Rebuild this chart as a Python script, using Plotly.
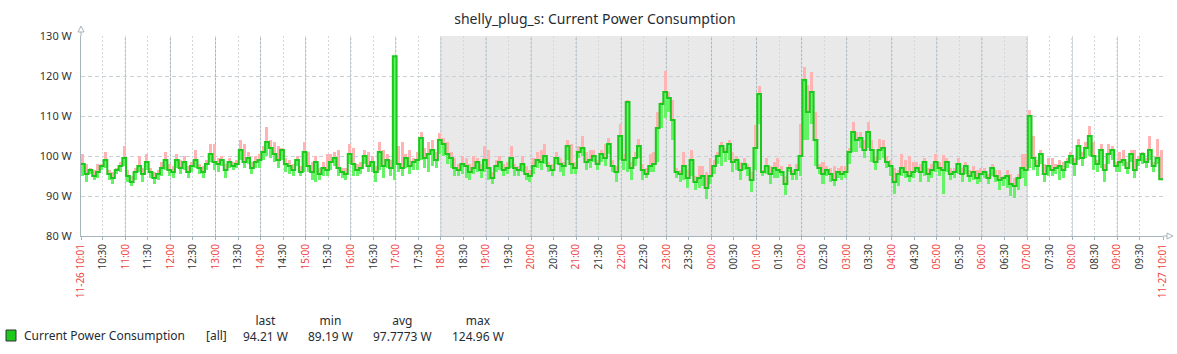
import pandas as pd
import plotly.graph_objects as go

title_text = "shelly_plug_s: Current Power Consumption"
series_name = "Current Power Consumption"
start = "2023-11-26 10:01"
end = "2023-11-27 10:01"
night_start = "2023-11-26 18:00"
night_end = "2023-11-27 07:00"
y_ticks = [80, 90, 100, 110, 120, 130]
legend_headers = ["last", "min", "avg", "max"]
legend_values = ["94.21 W", "89.19 W", "97.7773 W", "124.96 W"]

# 5-minute averages (W), 10:01 -> 10:01 next day
avg_w = [
    98.0, 95.5, 96.5, 95.0, 96.0, 97.5, 99.0, 95.5, 94.5, 96.5, 97.5, 99.5,
    95.0, 93.5, 96.0, 97.5, 95.5, 98.5, 96.0, 94.5, 95.5, 97.0, 99.0, 96.5,
    96.0, 99.0, 97.0, 98.5, 96.0, 97.5, 99.0, 97.0, 96.0, 98.0, 100.5, 98.5,
    98.0, 99.0, 96.5, 98.5, 97.5, 98.0, 101.5, 98.5, 99.5, 97.0, 98.5, 99.0,
    101.0, 103.5, 102.0, 100.5, 99.0, 101.5, 98.0, 97.5, 96.5, 99.0, 96.0, 101.0,
    97.5, 96.0, 98.5, 95.5, 97.0, 96.5, 98.5, 99.5, 97.0, 96.0, 95.5, 100.5,
    98.0, 96.5, 97.0, 100.0, 97.5, 98.5, 96.0, 101.0, 97.5, 99.0, 97.0, 124.96,
    98.0, 97.0, 99.5, 97.5, 98.5, 99.0, 104.5, 99.5, 100.5, 101.5, 99.0, 104.0,
    103.0, 100.5, 99.5, 97.0, 96.5, 98.0, 97.5, 96.0, 97.0, 98.5, 96.5, 99.0,
    97.0, 94.5, 97.5, 98.5, 96.5, 97.0, 99.5, 97.0, 96.5, 98.0, 95.5, 95.0,
    97.5, 99.0, 98.5, 100.0, 97.5, 96.5, 99.5, 98.0, 97.5, 102.5, 98.0, 97.0,
    101.0, 102.0, 98.5, 99.0, 100.0, 98.0, 100.5, 99.5, 103.0, 97.5, 96.0, 105.0,
    99.0, 113.5, 97.0, 99.5, 102.5, 96.5, 95.5, 97.5, 98.0, 107.0, 113.0, 116.0,
    114.5, 109.0, 96.0, 95.5, 97.5, 94.5, 99.0, 93.5, 94.5, 95.0, 92.0, 95.0,
    97.5, 100.0, 102.5, 101.0, 103.0, 98.5, 99.0, 96.5, 98.0, 97.0, 94.0, 102.0,
    115.5, 96.0, 97.5, 95.5, 97.0, 96.5, 96.0, 93.0, 97.0, 95.5, 96.5, 100.0,
    119.0, 111.0, 116.0, 104.0, 97.0, 95.5, 96.5, 95.5, 94.0, 96.0, 95.5, 96.0,
    101.0, 106.0, 104.0, 104.5, 101.5, 106.0, 101.5, 98.5, 101.5, 102.0, 98.5, 97.5,
    93.5, 95.5, 97.0, 96.0, 95.0, 96.0, 97.0, 96.0, 98.5, 95.5, 96.5, 98.5,
    97.0, 96.5, 98.5, 95.5, 96.0, 98.0, 95.5, 97.5, 95.0, 96.0, 94.5, 95.5,
    96.0, 94.5, 97.0, 95.0, 94.0, 94.5, 95.0, 93.0, 92.5, 94.5, 97.0, 96.5,
    110.0, 99.5, 97.5, 100.5, 95.5, 97.5, 96.5, 97.0, 97.5, 96.5, 98.5, 100.0,
    98.0, 102.5, 99.5, 102.0, 105.0, 100.0, 98.0, 101.5, 96.5, 100.5, 101.5, 97.5,
    98.5, 99.0, 97.0, 100.5, 96.5, 99.0, 100.5, 98.5, 101.5, 97.5, 99.5, 94.21,
]

max_w = [
    100.5, 98.0, 97.0, 96.5, 98.0, 98.0, 101.0, 96.5, 96.0, 97.0, 98.5, 102.5,
    96.5, 95.0, 97.0, 100.0, 97.0, 100.5, 97.0, 96.0, 96.5, 98.5, 101.0, 98.0,
    97.5, 100.5, 99.0, 100.0, 97.5, 98.5, 101.5, 98.0, 97.5, 99.0, 103.0, 103.0,
    99.5, 100.0, 98.0, 99.5, 98.5, 99.0, 104.0, 103.0, 101.0, 98.5, 100.0, 100.5,
    102.5, 107.2, 104.0, 103.5, 102.5, 102.0, 99.5, 99.0, 98.0, 100.0, 97.5, 103.5,
    101.0, 98.5, 100.0, 97.0, 98.5, 100.5, 100.5, 101.0, 101.5, 97.0, 97.0, 103.0,
    102.0, 98.0, 98.5, 101.5, 101.0, 100.0, 97.5, 103.5, 101.5, 100.5, 99.0, 124.96,
    102.5, 103.5, 100.5, 101.5, 99.5, 101.0, 106.0, 102.0, 103.5, 104.0, 101.0, 105.7,
    104.5, 103.5, 101.0, 99.5, 98.0, 100.0, 99.5, 98.0, 100.0, 99.5, 98.0, 102.5,
    101.5, 96.0, 99.0, 100.0, 98.0, 98.5, 102.5, 98.0, 97.5, 100.0, 97.5, 96.5,
    99.5, 101.0, 101.5, 103.0, 98.5, 98.0, 101.0, 99.5, 98.5, 104.0, 103.0, 98.5,
    102.5, 105.0, 101.0, 101.5, 101.5, 99.0, 101.5, 103.0, 104.5, 99.0, 97.5, 108.0,
    100.5, 113.8, 98.5, 101.0, 104.2, 98.0, 97.0, 100.5, 101.0, 111.0, 113.5, 121.3,
    116.0, 114.0, 97.0, 96.5, 101.0, 96.5, 101.5, 95.0, 97.5, 97.5, 96.0, 99.5,
    99.0, 101.0, 103.6, 102.0, 104.0, 101.0, 100.0, 98.5, 99.5, 98.0, 96.0, 107.8,
    117.5, 96.5, 99.5, 97.5, 98.5, 99.5, 97.5, 95.0, 98.0, 96.5, 98.0, 108.0,
    122.3, 117.7, 121.0, 111.0, 98.0, 98.5, 97.5, 97.0, 97.5, 97.0, 97.5, 97.5,
    102.0, 108.6, 106.0, 106.0, 104.0, 108.6, 104.0, 100.0, 104.2, 104.0, 100.0, 99.0,
    97.0, 96.5, 100.5, 99.0, 100.0, 98.5, 98.5, 98.0, 99.5, 97.0, 98.0, 100.5,
    98.5, 100.3, 99.5, 97.0, 97.0, 99.4, 97.0, 98.5, 96.5, 97.5, 96.5, 97.0,
    97.0, 95.5, 98.0, 96.5, 96.5, 95.0, 96.5, 95.5, 94.5, 95.5, 100.5, 100.5,
    111.5, 105.0, 99.0, 101.5, 98.0, 99.5, 99.5, 98.0, 99.0, 98.5, 99.5, 101.0,
    99.5, 104.2, 101.0, 103.5, 107.5, 103.5, 99.0, 103.0, 98.0, 103.0, 102.5, 98.5,
    101.0, 101.5, 98.5, 101.5, 101.5, 100.0, 101.0, 99.5, 105.0, 98.5, 104.2, 101.5,
]

min_w = [
    95.0, 93.5, 95.5, 94.0, 94.5, 96.5, 97.0, 94.0, 93.0, 95.5, 96.0, 97.5,
    93.5, 92.5, 94.0, 96.0, 93.5, 96.5, 94.5, 93.0, 94.0, 95.0, 96.5, 95.0,
    94.5, 97.0, 95.5, 96.5, 94.5, 96.0, 97.0, 95.5, 94.5, 96.5, 98.5, 96.5,
    96.0, 97.5, 94.5, 97.0, 96.5, 97.0, 99.0, 97.0, 98.0, 95.5, 97.0, 97.0,
    99.0, 100.0, 99.5, 98.5, 97.0, 99.0, 96.0, 95.5, 95.0, 97.5, 95.0, 96.0,
    96.0, 94.0, 93.5, 94.0, 95.0, 95.0, 96.5, 97.5, 95.0, 94.5, 94.0, 98.0,
    95.0, 95.0, 95.5, 98.0, 96.0, 96.0, 93.5, 96.5, 94.5, 97.0, 95.0, 94.0,
    96.0, 95.0, 97.0, 95.5, 96.5, 96.5, 99.0, 97.0, 96.0, 97.5, 97.0, 100.5,
    100.0, 98.0, 97.0, 95.0, 95.0, 95.5, 94.5, 94.0, 95.5, 96.0, 94.5, 96.0,
    94.0, 93.0, 96.0, 96.5, 95.0, 95.5, 97.0, 95.0, 95.0, 96.0, 94.0, 93.5,
    95.5, 97.0, 96.5, 98.0, 96.0, 95.0, 98.0, 96.0, 95.0, 99.0, 95.5, 95.5,
    99.5, 100.0, 96.5, 97.0, 98.5, 96.5, 98.5, 97.5, 100.5, 96.0, 93.5, 99.0,
    96.5, 96.0, 94.0, 97.5, 99.5, 94.0, 94.5, 96.0, 96.0, 98.5, 107.0, 109.5,
    111.0, 104.0, 94.5, 93.5, 94.0, 92.0, 95.0, 91.5, 92.0, 92.5, 89.19, 93.0,
    95.5, 98.0, 97.5, 98.5, 99.0, 96.0, 96.5, 94.0, 96.5, 95.0, 91.0, 96.5,
    108.0, 95.0, 95.5, 93.0, 94.5, 94.5, 95.0, 90.3, 96.0, 94.0, 94.0, 95.0,
    104.0, 104.0, 108.0, 97.5, 95.5, 93.0, 95.0, 93.5, 92.5, 94.5, 94.0, 94.5,
    98.0, 101.0, 101.0, 102.0, 99.5, 102.0, 98.5, 96.5, 99.0, 99.5, 97.0, 95.0,
    90.5, 92.5, 95.0, 94.5, 93.5, 94.5, 96.0, 93.5, 95.0, 93.5, 94.5, 96.0,
    95.0, 90.5, 96.0, 94.0, 94.5, 95.5, 93.5, 95.5, 93.5, 94.0, 93.0, 93.5,
    94.5, 93.0, 95.0, 93.5, 91.5, 92.5, 92.0, 90.0, 89.5, 91.5, 94.5, 92.5,
    97.0, 96.5, 95.0, 98.0, 93.5, 95.0, 95.0, 95.5, 94.0, 94.5, 97.0, 98.0,
    95.0, 99.0, 97.5, 99.5, 100.0, 96.5, 96.0, 97.0, 93.5, 98.0, 99.0, 96.0,
    96.0, 97.5, 95.5, 98.5, 94.5, 97.5, 98.0, 97.0, 99.0, 96.0, 98.0, 94.0,
]

FONT = "Noto Sans"
TXT = "#1f2c33"
RED = "#f04444"
AXIS = "#a6b4bb"
GREEN = "#1cc81c"
LIGHT_GREEN = "#66f266"
PINK = "#ffb3b3"

step = pd.Timedelta(minutes=5)
edges = pd.date_range(start, periods=len(avg_w) + 1, freq=step)
centers = edges[:-1] + step / 2
bar_w = 4 * 60 * 1000

fig = go.Figure()
fig.add_trace(go.Bar(
    x=centers, base=avg_w, y=[mx - a for mx, a in zip(max_w, avg_w)],
    width=bar_w, marker=dict(color=PINK, line=dict(width=0)), hoverinfo="skip",
))
fig.add_trace(go.Bar(
    x=centers, base=min_w, y=[a - mn for a, mn in zip(avg_w, min_w)],
    width=bar_w, marker=dict(color=LIGHT_GREEN, line=dict(width=0)), hoverinfo="skip",
))
fig.add_trace(go.Scatter(
    x=edges, y=avg_w + [avg_w[-1]], mode="lines", line_shape="hv",
    line=dict(color=GREEN, width=2), name=series_name,
))

# x ticks
t0 = pd.Timestamp(start)
t1 = pd.Timestamp(end)
half_hours = pd.date_range("2023-11-26 10:30", "2023-11-27 09:30", freq="30min")
tickvals = [t0] + list(half_hours) + [t1]
ticktext = [f'<span style="color:{RED}">{t0:%m-%d %H:%M}</span>']
for ts in half_hours:
    if ts.minute == 0:
        ticktext.append(f'<span style="color:{RED}">{ts:%H:%M}</span>')
    else:
        ticktext.append(f"{ts:%H:%M}")
ticktext.append(f'<span style="color:{RED}">{t1:%m-%d %H:%M}</span>')

shapes = [
    dict(type="rect", xref="x", yref="paper", x0=night_start, x1=night_end,
         y0=0, y1=1, fillcolor="#e9e9e9", line=dict(width=0), layer="below"),
]
for h in pd.date_range("2023-11-26 11:00", "2023-11-27 09:00", freq="h"):
    shapes.append(dict(type="line", xref="x", yref="paper", x0=h, x1=h, y0=0, y1=1,
                       line=dict(color="#a9b5bc", width=1, dash="2px,2px"), layer="between"))

# axis arrows (paper units: 1082 px wide, 200 px tall)
px_x = 1 / 1082
px_y = 1 / 200
shapes += [
    dict(type="line", xref="paper", yref="paper", x0=0, x1=0, y0=1, y1=1 + 4 * px_y,
         line=dict(color=AXIS, width=1)),
    dict(type="path", xref="paper", yref="paper",
         path=f"M {-3*px_x},{1+4*px_y} L {3*px_x},{1+4*px_y} L 0,{1+10*px_y} Z",
         line=dict(color=AXIS, width=1), fillcolor="white"),
    dict(type="line", xref="paper", yref="paper", x0=1, x1=1 + 4 * px_x, y0=0, y1=0,
         line=dict(color=AXIS, width=1)),
    dict(type="path", xref="paper", yref="paper",
         path=f"M {1+4*px_x},{3*px_y} L {1+4*px_x},{-3*px_y} L {1+10*px_x},0 Z",
         line=dict(color=AXIS, width=1), fillcolor="white"),
]

# legend block
def pxx(v):
    return (v - 81) / 1082

def pxy(v):
    return (236 - v) / 200

shapes.append(dict(type="rect", xref="paper", yref="paper",
                   x0=pxx(6), x1=pxx(16), y0=pxy(341), y1=pxy(330),
                   fillcolor=GREEN, line=dict(color="#333333", width=1)))

annotations = [
    dict(text=series_name, x=pxx(22), y=pxy(335.5), xanchor="left", yanchor="middle"),
    dict(text="[all]", x=pxx(204), y=pxy(335.5), xanchor="left", yanchor="middle"),
]
col_centers = [265, 330, 402, 478]
for cx, hdr, val in zip(col_centers, legend_headers, legend_values):
    annotations.append(dict(text=f"{hdr}<br>{val}", x=pxx(cx), y=pxy(328),
                            xanchor="center", yanchor="middle"))
for a in annotations:
    a.update(xref="paper", yref="paper", showarrow=False,
             font=dict(family=FONT, size=12, color=TXT))

fig.update_layout(
    width=1177, height=354,
    margin=dict(l=81, r=14, t=36, b=118, autoexpand=False),
    paper_bgcolor="white", plot_bgcolor="white",
    showlegend=False, barmode="overlay", bargap=0,
    font=dict(family=FONT, color=TXT),
    title=dict(text=title_text, x=595 / 1177, xref="container", xanchor="center",
               y=1 - 19 / 354, yref="container", yanchor="middle",
               font=dict(family=FONT, size=14, color=TXT)),
    shapes=shapes, annotations=annotations,
    xaxis=dict(
        type="date", range=[t0, t1], tickmode="array", tickvals=tickvals, ticktext=ticktext,
        tickangle=-90, tickfont=dict(family=FONT, size=10, color="#333333"),
        showgrid=True, gridcolor="#d2d9dd", griddash="2px,2px", gridwidth=1,
        showline=True, linecolor=AXIS, linewidth=1, zeroline=False,
        ticks="outside", ticklen=3, tickcolor=AXIS, automargin=False,
    ),
    yaxis=dict(
        range=[80, 130], tickmode="array", tickvals=y_ticks,
        ticktext=[f"{v} W" for v in y_ticks],
        tickfont=dict(family=FONT, size=11, color="#333333"),
        showgrid=True, gridcolor="#c9d1d5", griddash="4px,3px", gridwidth=1,
        showline=True, linecolor=AXIS, linewidth=1, zeroline=False,
        ticks="", ticklabelstandoff=6, automargin=False,
    ),
)

fig.write_html("out.html")
